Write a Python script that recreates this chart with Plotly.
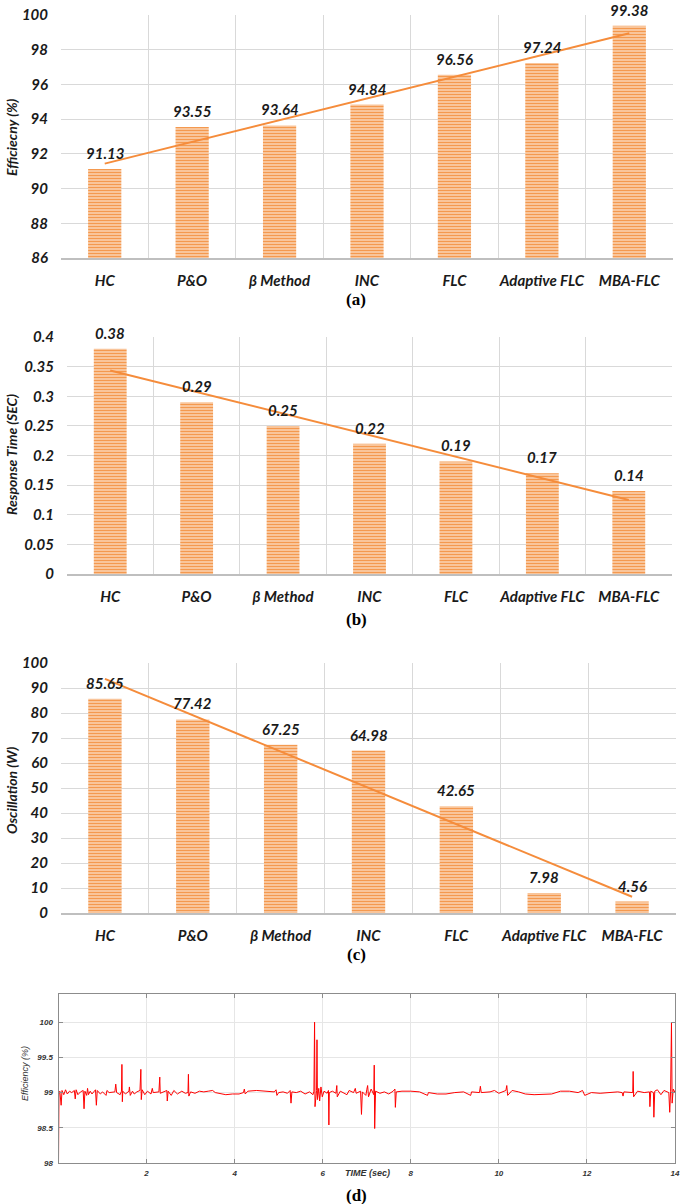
import numpy as np
import plotly.graph_objects as go

W, H = 685, 1204

methods = ["HC", "P&O", "β Method", "INC", "FLC", "Adaptive FLC", "MBA-FLC"]
efficiency = [91.13, 93.55, 93.64, 94.84, 96.56, 97.24, 99.38]
response_time = [0.38, 0.29, 0.25, 0.22, 0.19, 0.17, 0.14]
oscillation = [85.65, 77.42, 67.25, 64.98, 42.65, 7.98, 4.56]

eff_ticks = [86, 88, 90, 92, 94, 96, 98, 100]
rt_ticks = [0, 0.05, 0.1, 0.15, 0.2, 0.25, 0.3, 0.35, 0.4]
osc_ticks = [0, 10, 20, 30, 40, 50, 60, 70, 80, 90, 100]

time_s = [0.000, 0.010, 0.030, 0.060, 0.080, 0.120, 0.160, 0.200, 0.250, 0.300,
          0.360, 0.380, 0.400, 0.440, 0.500, 0.560, 0.580, 0.600, 0.640, 0.660,
          0.680, 0.720, 0.760, 0.840, 0.860, 0.880, 0.950, 1.000, 1.080, 1.100,
          1.150, 1.280, 1.300, 1.320, 1.400, 1.430, 1.440, 1.450, 1.460, 1.520,
          1.600, 1.610, 1.630, 1.680, 1.720, 1.780, 1.850, 1.870, 1.880, 1.900,
          1.960, 2.020, 2.100, 2.130, 2.150, 2.280, 2.300, 2.310, 2.400, 2.460,
          2.470, 2.490, 2.560, 2.620, 2.700, 2.800, 2.880, 2.940, 2.950, 2.960,
          3.000, 3.100, 3.200, 3.300, 3.400, 3.500, 3.560, 3.650, 3.800, 3.950,
          4.100, 4.200, 4.220, 4.240, 4.300, 4.500, 4.700, 4.900, 4.940, 4.960,
          5.000, 5.100, 5.200, 5.260, 5.280, 5.300, 5.400, 5.500, 5.600, 5.700,
          5.780, 5.800, 5.815, 5.825, 5.860, 5.870, 5.880, 5.910, 5.930, 5.960,
          5.990, 6.030, 6.100, 6.130, 6.140, 6.150, 6.220, 6.300, 6.320, 6.330,
          6.400, 6.550, 6.600, 6.700, 6.740, 6.760, 6.860, 6.880, 6.900, 6.980,
          7.000, 7.020, 7.040, 7.100, 7.160, 7.170, 7.180, 7.200, 7.300, 7.400,
          7.500, 7.600, 7.640, 7.650, 7.670, 7.800, 8.000, 8.200, 8.380, 8.400,
          8.600, 8.800, 9.000, 9.200, 9.360, 9.380, 9.560, 9.580, 9.600, 9.800,
          9.900, 10.000, 10.160, 10.180, 10.200, 10.300, 10.450, 10.600, 10.800, 11.000,
          11.200, 11.400, 11.600, 11.800, 11.900, 11.950, 12.100, 12.300, 12.500, 12.700,
          12.800, 12.820, 12.840, 12.950, 13.040, 13.050, 13.060, 13.150, 13.300, 13.420,
          13.430, 13.450, 13.510, 13.520, 13.540, 13.600, 13.680, 13.750, 13.860, 13.880,
          13.900, 13.920, 13.935, 13.960, 14.000]
efficiency_pct = [98.00, 98.98, 99.02, 98.82, 99.03, 98.97, 99.04, 98.98, 99.02, 99.00,
                  99.03, 98.91, 99.04, 98.97, 99.01, 99.03, 98.77, 99.02, 98.96, 99.06,
                  98.97, 99.02, 98.98, 99.04, 98.82, 99.03, 98.98, 99.01, 98.96, 99.03,
                  99.00, 99.01, 99.12, 99.00, 98.97, 99.02, 99.40, 98.87, 99.02, 98.98,
                  99.02, 99.08, 98.96, 99.02, 98.98, 99.01, 99.03, 99.33, 98.90, 99.04,
                  98.97, 99.02, 98.98, 99.06, 99.00, 99.01, 99.22, 98.99, 99.02, 99.03,
                  98.88, 99.02, 98.96, 99.03, 98.98, 99.02, 98.99, 99.00, 99.26, 98.95,
                  99.01, 98.99, 99.02, 99.01, 99.02, 99.03, 99.00, 98.99, 98.97, 98.98,
                  98.98, 99.00, 99.05, 98.98, 99.02, 99.03, 99.02, 99.01, 99.04, 98.96,
                  99.00, 99.01, 98.99, 99.03, 98.85, 99.01, 99.00, 99.02, 98.98, 99.01,
                  98.97, 99.02, 100.00, 98.80, 99.03, 99.75, 98.90, 99.06, 98.88, 99.08,
                  98.94, 99.02, 98.99, 99.03, 98.54, 99.00, 99.02, 98.99, 99.10, 98.94,
                  99.02, 98.97, 99.03, 99.00, 99.06, 98.99, 99.02, 98.69, 99.01, 98.96,
                  99.04, 99.10, 98.94, 99.05, 98.97, 99.39, 98.49, 99.02, 98.99, 99.01,
                  98.98, 99.02, 99.05, 98.79, 99.01, 99.02, 99.02, 99.01, 98.96, 99.00,
                  98.98, 98.98, 99.00, 99.01, 98.96, 99.01, 99.00, 99.09, 99.00, 99.01,
                  99.03, 98.99, 99.03, 99.10, 98.96, 99.03, 99.01, 98.98, 98.97, 98.97,
                  98.98, 99.02, 99.02, 99.00, 99.03, 98.96, 99.00, 98.99, 99.00, 99.01,
                  99.00, 98.95, 99.01, 99.00, 99.00, 99.30, 98.94, 99.02, 99.00, 99.01,
                  98.80, 99.02, 99.00, 98.65, 99.02, 99.04, 98.97, 99.03, 99.00, 98.72,
                  99.02, 100.00, 98.85, 99.05, 99.00]
time_ticks = [2, 4, 6, 8, 10, 12, 14]
eff_pct_ticks = [98, 98.5, 99, 99.5, 100]

BAR_ORANGE = "#F4994F"
BAR_LIGHT = "#FDE3CD"
TREND = "#F58C3B"
GRID = "#D9D9D9"
TXT = "#1a1a1a"
FONT = "Lato"


def px_x(a, b):
    return [a / W, b / W]


def px_y(top, bottom):
    return [1 - bottom / H, 1 - top / H]


fig = go.Figure()

panels = [
    dict(vals=efficiency, ticks=eff_ticks, rng=[86, 100], xd=(61, 673), yd=(15, 258),
         title="Efficiecny (%)", ty=137, cap="(a)", capy=300),
    dict(vals=response_time, ticks=rt_ticks, rng=[0, 0.4], xd=(67, 672), yd=(337, 574),
         title="Response Time (SEC)", ty=455, cap="(b)", capy=619),
    dict(vals=oscillation, ticks=osc_ticks, rng=[0, 100], xd=(61, 676), yd=(663, 913),
         title="Oscillation (W)", ty=790, cap="(c)", capy=954),
]

label_font = dict(family=FONT, size=15, color=TXT, weight="bold", style="italic")

annotations = []
for i, p in enumerate(panels):
    n = i + 1
    xa = "x" if n == 1 else f"x{n}"
    ya = "y" if n == 1 else f"y{n}"
    fig.add_trace(go.Bar(
        x=methods, y=p["vals"], xaxis=xa, yaxis=ya, width=0.38,
        marker=dict(color=BAR_LIGHT, line=dict(width=0),
                    pattern=dict(shape="-", fillmode="overlay", fgcolor=BAR_ORANGE,
                                 fgopacity=1, size=3, solidity=0.6)),
        showlegend=False, hoverinfo="skip"))
    idx = np.arange(len(methods))
    slope, icpt = np.polyfit(idx, p["vals"], 1)
    fig.add_trace(go.Scatter(
        x=[methods[0], methods[-1]], y=[icpt, icpt + slope * idx[-1]],
        xaxis=xa, yaxis=ya, mode="lines", line=dict(color=TREND, width=2),
        showlegend=False, cliponaxis=False, hoverinfo="skip"))
    for m, v in zip(methods, p["vals"]):
        annotations.append(dict(
            text=str(v), x=m, y=v, xref=xa, yref=ya, showarrow=False,
            xanchor="center", yanchor="bottom", yshift=5, font=label_font))
    fig.layout[f"xaxis{'' if n == 1 else n}"] = dict(
        domain=px_x(*p["xd"]), anchor=ya, type="category", range=[-0.5, 6.5],
        tickson="boundaries", showgrid=True, gridcolor=GRID, gridwidth=1,
        showline=True, linecolor="#BFBFBF", linewidth=2, ticks="", ticklabelstandoff=8,
        tickangle=0, automargin=False, tickfont=label_font,
        fixedrange=True, zeroline=False)
    fig.layout[f"yaxis{'' if n == 1 else n}"] = dict(
        domain=px_y(*p["yd"]), anchor=xa, range=p["rng"], tickvals=p["ticks"],
        showgrid=True, gridcolor=GRID, gridwidth=1, showline=False, zeroline=False,
        ticks="", ticklabelstandoff=12, automargin=False, tickfont=label_font,
        fixedrange=True)
    annotations.append(dict(
        text=p["title"], textangle=-90, xref="paper", yref="paper",
        x=11 / W, y=1 - p["ty"] / H, showarrow=False, xanchor="center", yanchor="middle",
        font=dict(family=FONT, size=14, color=TXT, weight="bold", style="italic")))
    annotations.append(dict(
        text=f"<b>{p['cap']}</b>", xref="paper", yref="paper",
        x=356 / W, y=1 - p["capy"] / H, showarrow=False, xanchor="center", yanchor="middle",
        font=dict(family="Liberation Serif", size=17, color="black")))

# Panel (d): time series
fig.add_trace(go.Scatter(
    x=time_s, y=efficiency_pct, xaxis="x4", yaxis="y4", mode="lines",
    line=dict(color="#FF0000", width=1), showlegend=False))
fig.layout["xaxis4"] = dict(
    domain=px_x(58.5, 675), anchor="y4", range=[0, 14], tickvals=time_ticks,
    showgrid=True, gridcolor="#E6E6E6", showline=True, linecolor="#8C8C8C", linewidth=1,
    mirror="ticks", ticks="inside", ticklen=4, tickcolor="#8C8C8C", zeroline=False,
    ticklabelstandoff=2, automargin=False,
    tickfont=dict(family="Liberation Sans", size=8, color="#333333", weight="bold", style="italic"),
    fixedrange=True)
fig.layout["yaxis4"] = dict(
    domain=px_y(994, 1163), anchor="x4", range=[98, 100.4], tickvals=eff_pct_ticks,
    showgrid=True, gridcolor="#E6E6E6", showline=True, linecolor="#8C8C8C", linewidth=1,
    mirror="ticks", ticks="inside", ticklen=4, tickcolor="#8C8C8C", zeroline=False,
    ticklabelstandoff=3, automargin=False,
    tickfont=dict(family="Liberation Sans", size=8, color="#333333", weight="bold", style="italic"),
    fixedrange=True)
annotations.append(dict(
    text="TIME (sec)", xref="paper", yref="paper", x=367 / W, y=1 - 1173 / H,
    showarrow=False, xanchor="center", yanchor="middle",
    font=dict(family="Liberation Sans", size=9, color="#333333", weight="bold", style="italic")))
annotations.append(dict(
    text="Efficiency (%)", textangle=-90, xref="paper", yref="paper", x=25 / W, y=1 - 1073 / H,
    showarrow=False, xanchor="center", yanchor="middle",
    font=dict(family="Liberation Sans", size=9, color="#333333", style="italic")))
annotations.append(dict(
    text="<b>(d)</b>", xref="paper", yref="paper", x=356 / W, y=1 - 1195 / H,
    showarrow=False, xanchor="center", yanchor="middle",
    font=dict(family="Liberation Serif", size=17, color="black")))

fig.update_layout(
    width=W, height=H, margin=dict(l=0, r=0, t=0, b=0),
    paper_bgcolor="white", plot_bgcolor="white",
    annotations=annotations, bargap=0.6, showlegend=False)

fig.write_html(
    "out.html",
    config={"displayModeBar": False},
    post_script="document.body.style.margin='0';document.body.style.overflow='hidden';")
